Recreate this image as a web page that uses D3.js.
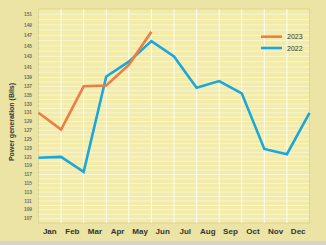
<!DOCTYPE html>
<html>
<head>
<meta charset="utf-8">
<script src="https://cdn.jsdelivr.net/npm/d3@7"></script>
<style>
  body { margin: 0; background: #ebe4a4; }
  svg { display: block; font-family: "Liberation Sans", Arial, sans-serif; }
</style>
</head>
<body>
<svg width="326" height="245"></svg>
<script>
  // data: points sit on the month boundaries (13 of them)
  var months = ['Jan', 'Feb', 'Mar', 'Apr', 'May', 'Jun', 'Jul', 'Aug', 'Sep', 'Oct', 'Nov', 'Dec'];
  var values2022 = [120.8, 121.0, 117.6, 139.2, 142.0, 145.9, 143.0, 136.7, 138.2, 135.4, 122.8, 121.6, 131.0];
  var values2023 = [131.0, 127.2, 137.0, 137.2, 141.4, 147.7];
  var yTicks = d3.range(107, 152, 2);
  var seriesNames = ['2023', '2022'];

  (function () {
  var svg = d3.select('svg');
  var width = +svg.attr('width');
  var height = +svg.attr('height');

  var plotLeft = 38.5, plotRight = 309.5, plotTop = 9, plotBottom = 223;

  svg.append('rect')
    .attr('width', width).attr('height', height)
    .attr('fill', '#ebe4a4');
  svg.append('rect')
    .attr('y', 241).attr('width', width).attr('height', 4)
    .attr('fill', '#d6d4c8');

  var x = d3.scaleLinear().domain([0, 12]).range([plotLeft, plotRight]);
  // the source axis is not evenly spaced, top part is stretched
  var y = d3.scaleLinear().domain([106, 139, 152]).range([plotBottom, 77.5, plotTop]);

  svg.append('rect')
    .attr('x', plotLeft).attr('y', plotTop)
    .attr('width', plotRight - plotLeft).attr('height', plotBottom - plotTop)
    .attr('fill', '#f3eca9')
    .attr('stroke', '#dcd494')
    .attr('stroke-width', 1);

  // grid
  svg.append('g').selectAll('line')
    .data(d3.range(107, 152))
    .join('line')
    .attr('x1', plotLeft).attr('x2', plotRight)
    .attr('y1', function(d) { return y(d); })
    .attr('y2', function(d) { return y(d); })
    .attr('stroke', '#ffffff')
    .attr('stroke-opacity', 0.6)
    .attr('stroke-width', 0.8);

  svg.append('g').selectAll('line')
    .data(d3.range(1, 12))
    .join('line')
    .attr('x1', function(d) { return x(d); })
    .attr('x2', function(d) { return x(d); })
    .attr('y1', plotTop).attr('y2', plotBottom)
    .attr('stroke', '#ffffff')
    .attr('stroke-opacity', 0.85)
    .attr('stroke-width', 1);

  // y tick labels
  svg.append('g').selectAll('text')
    .data(yTicks)
    .join('text')
    .attr('x', 28)
    .attr('y', function(d) { return y(d) + 1.7; })
    .attr('text-anchor', 'middle')
    .attr('font-size', 4.8)
    .attr('font-weight', 'bold')
    .attr('fill', '#707060')
    .text(function(d) { return d; });

  // month labels
  svg.append('g').selectAll('text')
    .data(months)
    .join('text')
    .attr('x', function(d, i) { return x(i + 0.5); })
    .attr('y', 234)
    .attr('text-anchor', 'middle')
    .attr('font-size', 8)
    .attr('font-weight', 'bold')
    .attr('fill', '#333')
    .text(function(d) { return d; });

  svg.append('text')
    .attr('transform', 'translate(14,' + 122 + ') rotate(-90)')
    .attr('text-anchor', 'middle')
    .attr('font-size', 7)
    .attr('font-weight', 'bold')
    .attr('fill', '#333')
    .text('Power generation (Blls)');

  var line = d3.line()
    .x(function(d, i) { return x(i); })
    .y(function(d) { return y(d); });

  svg.append('path')
    .attr('d', line(values2022))
    .attr('fill', 'none')
    .attr('stroke', '#1ba7da')
    .attr('stroke-width', 2.6)
    .attr('stroke-linejoin', 'miter');

  svg.append('path')
    .attr('d', line(values2023))
    .attr('fill', 'none')
    .attr('stroke', '#ee7c45')
    .attr('stroke-width', 2.6)
    .attr('stroke-linejoin', 'miter');

  // legend
  var colors = { '2023': '#ee7c45', '2022': '#1ba7da' };
  var legend = svg.append('g').selectAll('g')
    .data(seriesNames)
    .join('g')
    .attr('transform', function(d, i) { return 'translate(261,' + (36.7 + i * 11.3) + ')'; });
  legend.append('line')
    .attr('x1', 0).attr('x2', 21)
    .attr('stroke', function(d) { return colors[d]; })
    .attr('stroke-width', 2.6);
  legend.append('text')
    .attr('x', 26).attr('y', 2.5)
    .attr('font-size', 7)
    .attr('fill', '#333')
    .text(function(d) { return d; });
  })();
</script>
</body>
</html>
